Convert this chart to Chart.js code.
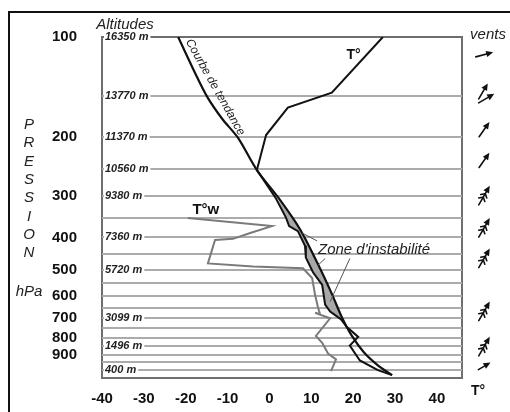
<!DOCTYPE html>
<html>
<head>
<meta charset="utf-8">
<script src="https://cdn.jsdelivr.net/npm/chart.js@4.4.1/dist/chart.umd.min.js"></script>
<style>
  html, body { margin: 0; padding: 0; background: #fff; }
  #wrap { width: 510px; height: 412px; }
</style>
</head>
<body>
<div id="wrap"><canvas id="sondage" width="510" height="412"></canvas></div>
<script>
// axes
var tempTicks = [-40, -30, -20, -10, 0, 10, 20, 30, 40];
var pressureTicks = [100, 200, 300, 400, 500, 600, 700, 800, 900];
var gridLevels = [100, 150, 200, 250, 300, 350, 400, 450, 500, 550, 600, 650, 700, 750, 800, 850, 900, 950, 1000];
var altLevels = [100, 150, 200, 250, 300, 400, 500, 700, 850, 1000];
var altLabels = ['16350 m', '13770 m', '11370 m', '10560 m', '9380 m', '7360 m', '5720 m', '3099 m', '1496 m', '400 m'];

// T° (température)
var tempT = [27.1, 14.9, 4.4, -0.8, -3.0, 1.6, 4.0, 4.7, 6.8, 8.5, 8.7, 10.4, 12.6, 13.3, 14.5, 17.1, 18.5, 21.2, 19.2, 21.6, 25.9, 29.3];
var tempP = [100, 147, 163, 197, 251, 306, 350, 370, 383, 424, 460, 509, 556, 637, 668, 705, 744, 796, 846, 937, 1002, 1037];

// T°w (température du point de rosée)
var dewT = [-19.5, 0.6, -4.6, -8.7, -13.0, -14.7, -3.9, 8.0, 10.2, 10.9, 11.6, 12.1, 10.9, 14.5, 11.1, 12.6, 14.0, 15.9, 14.7];
var dewP = [350, 370, 388, 404, 407, 479, 489, 495, 530, 595, 650, 681, 674, 700, 791, 829, 893, 930, 1009];

// courbe de tendance
var trendT = [-21.8, -17.8, -14.9, -11.3, -7.5, -3.0, 2.3, 7.3, 11.4, 14.7, 17.3, 19.7, 22.6, 25.9, 29.3];
var trendP = [100, 128, 151, 176, 201, 251, 306, 378, 476, 583, 695, 791, 887, 969, 1037];

// zone d'instabilité (entre T° et la courbe de tendance)
var zoneT = [2.0, 4.0, 4.7, 6.8, 8.5, 8.7, 10.4, 12.6, 13.3, 14.5, 17.2, 14.7, 11.4, 7.3];
var zoneP = [306, 350, 370, 383, 424, 460, 509, 556, 637, 668, 700, 583, 476, 378];

// vents
var windP = [113, 150, 190, 235, 300, 375, 463, 668, 852, 976];
var windDir = [75, 30, 35, 35, 30, 30, 30, 30, 30, 60];
var windKind = ['plain', 'double', 'plain', 'plain', 'feather', 'feather', 'feather', 'feather', 'feather', 'short'];

var FONT = "'Liberation Sans', Arial, sans-serif";

function toPoints(xs, ys) {
    return xs.map(function (x, i) { return { x: x, y: ys[i] }; });
}

function drawArrow(ctx, x, y, deg, len, feathers) {
    var h = len / 2;
    ctx.save();
    ctx.translate(x, y);
    ctx.rotate(deg * Math.PI / 180);
    ctx.strokeStyle = '#111';
    ctx.fillStyle = '#111';
    ctx.lineWidth = 1.6;
    ctx.lineCap = 'round';
    ctx.beginPath();
    ctx.moveTo(0, h);
    ctx.lineTo(0, -h + 3);
    ctx.stroke();
    ctx.beginPath();
    ctx.moveTo(0, -h - 1);
    ctx.lineTo(-3.2, -h + 6);
    ctx.lineTo(3.2, -h + 6);
    ctx.closePath();
    ctx.fill();
    for (var i = 0; i < feathers; i++) {
        var fy = -h + 8 + i * 4;
        ctx.beginPath();
        ctx.moveTo(-3.5, fy + 3);
        ctx.lineTo(0, fy);
        ctx.lineTo(3.5, fy + 3);
        ctx.stroke();
    }
    ctx.restore();
}

var decor = {
    id: 'decor',
    beforeDraw: function (chart) {
        var ctx = chart.ctx, a = chart.chartArea;
        ctx.save();
        ctx.fillStyle = '#fff';
        ctx.fillRect(0, 0, chart.width, chart.height);
        // cadre extérieur
        ctx.strokeStyle = '#111';
        ctx.lineWidth = 2;
        ctx.beginPath();
        ctx.moveTo(9, chart.height);
        ctx.lineTo(9, 12);
        ctx.lineTo(chart.width, 12);
        ctx.stroke();
        // cadre du diagramme
        ctx.strokeStyle = '#6e6e6e';
        ctx.strokeRect(a.left, a.top, a.right - a.left, a.bottom - a.top);
        ctx.restore();
    },
    afterDraw: function (chart) {
        var ctx = chart.ctx, a = chart.chartArea;
        var sx = chart.scales.x, sy = chart.scales.y;
        ctx.save();
        ctx.fillStyle = '#222';
        ctx.textAlign = 'center';
        ctx.textBaseline = 'middle';

        // PRESSION hPa
        ctx.font = 'italic 15px ' + FONT;
        'PRESSION'.split('').forEach(function (c, i) {
            ctx.fillText(c, 29, 125 + i * 18.3);
        });
        ctx.fillText('hPa', 29, 292);
        ctx.fillText('Altitudes', 125, 25);
        ctx.fillText('vents', 488, 35);

        ctx.fillStyle = '#111';
        ctx.font = 'bold 14px ' + FONT;
        ctx.fillText('T°', 478, 391);
        ctx.fillText('T°', sx.getPixelForValue(20.1), sy.getPixelForValue(113));
        ctx.font = 'bold 15px ' + FONT;
        ctx.fillText('T°w', sx.getPixelForValue(-15.2), sy.getPixelForValue(330));

        // zone d'instabilité
        ctx.strokeStyle = '#555';
        ctx.lineWidth = 1;
        [[11.4, 410, 7.8, 388], [13.3, 463, 11.6, 485], [19.2, 463, 14.5, 624]].forEach(function (l) {
            ctx.beginPath();
            ctx.moveTo(sx.getPixelForValue(l[0]), sy.getPixelForValue(l[1]));
            ctx.lineTo(sx.getPixelForValue(l[2]), sy.getPixelForValue(l[3]));
            ctx.stroke();
        });
        ctx.fillStyle = '#222';
        ctx.font = 'italic 15px ' + FONT;
        ctx.textAlign = 'left';
        ctx.fillText("Zone d'instabilité", sx.getPixelForValue(11.6), sy.getPixelForValue(435));

        // courbe de tendance
        ctx.save();
        ctx.translate(sx.getPixelForValue(-14.0), sy.getPixelForValue(144));
        ctx.rotate(60.5 * Math.PI / 180);
        ctx.textAlign = 'center';
        ctx.font = 'italic 12px ' + FONT;
        ctx.fillText('Courbe de tendance', 0, -5);
        ctx.restore();

        // vents
        var wx = a.right + 22;
        windP.forEach(function (p, i) {
            var y = sy.getPixelForValue(p);
            var k = windKind[i];
            if (k === 'double') {
                drawArrow(ctx, wx - 1, y - 4, windDir[i], 17, 0);
                drawArrow(ctx, wx + 2, y + 3, windDir[i] + 30, 17, 0);
            } else if (k === 'feather') {
                drawArrow(ctx, wx, y, windDir[i], 21, 2);
            } else if (k === 'short') {
                drawArrow(ctx, wx, y, windDir[i], 13, 0);
            } else {
                drawArrow(ctx, wx, y, windDir[i], 17, 0);
            }
        });
        ctx.restore();
    }
};

new Chart(document.getElementById('sondage'), {
    type: 'line',
    data: {
        datasets: [{
            label: 'T°',
            data: toPoints(tempT, tempP),
            borderColor: '#111',
            borderWidth: 2,
            pointRadius: 0,
            tension: 0
        }, {
            label: 'Courbe de tendance',
            data: toPoints(trendT, trendP),
            borderColor: '#111',
            borderWidth: 2.2,
            pointRadius: 0,
            tension: 0.3
        }, {
            label: 'T°w',
            data: toPoints(dewT, dewP),
            borderColor: '#7a7a7a',
            borderWidth: 2,
            pointRadius: 0,
            tension: 0
        }, {
            label: "Zone d'instabilité",
            data: toPoints(zoneT, zoneP),
            borderWidth: 0,
            backgroundColor: '#a8a8a8',
            fill: 'shape',
            pointRadius: 0,
            tension: 0
        }]
    },
    options: {
        responsive: false,
        animation: false,
        layout: { padding: { top: 37, right: 48, bottom: 0, left: 0 } },
        plugins: { legend: { display: false }, tooltip: { enabled: false } },
        scales: {
            x: {
                type: 'linear',
                min: -40,
                max: 46,
                afterBuildTicks: function (s) { s.ticks = tempTicks.map(function (v) { return { value: v }; }); },
                afterFit: function (s) { s.height = 27; },
                grid: { display: false, drawTicks: false },
                border: { display: false },
                ticks: {
                    padding: 12,
                    autoSkip: false,
                    maxRotation: 0,
                    color: '#111',
                    font: { family: FONT, size: 15, weight: 'bold' },
                    callback: function (v) { return String(v); }
                }
            },
            y: {
                type: 'logarithmic',
                reverse: true,
                min: 100,
                max: 1058,
                position: 'left',
                weight: 0,
                afterBuildTicks: function (s) { s.ticks = gridLevels.map(function (v) { return { value: v }; }); },
                afterFit: function (s) { s.width = 0; },
                grid: {
                    color: function (c) { return c.tick && c.tick.value === 100 ? '#6e6e6e' : '#ababab'; },
                    lineWidth: 2,
                    drawTicks: false
                },
                border: { display: false },
                ticks: {
                    mirror: true,
                    padding: 3,
                    autoSkip: false,
                    color: '#222',
                    font: { family: FONT, size: 11, style: 'italic', weight: 'bold' },
                    showLabelBackdrop: true,
                    backdropColor: function (c) { return c.tick && c.tick.label ? '#fff' : 'rgba(0,0,0,0)'; },
                    backdropPadding: { left: 1, right: 2, top: 0, bottom: 0 },
                    callback: function (v) {
                        var i = altLevels.indexOf(v);
                        return i < 0 ? '' : altLabels[i];
                    }
                }
            },
            yp: {
                type: 'logarithmic',
                reverse: true,
                min: 100,
                max: 1058,
                position: 'left',
                weight: 1,
                afterBuildTicks: function (s) { s.ticks = pressureTicks.map(function (v) { return { value: v }; }); },
                afterFit: function (s) { s.width = 102; },
                grid: { display: false, drawTicks: false },
                border: { display: false },
                ticks: {
                    padding: 25,
                    autoSkip: false,
                    color: '#111',
                    font: { family: FONT, size: 15, weight: 'bold' },
                    callback: function (v) { return String(v); }
                }
            }
        }
    },
    plugins: [decor]
});
</script>
</body>
</html>
